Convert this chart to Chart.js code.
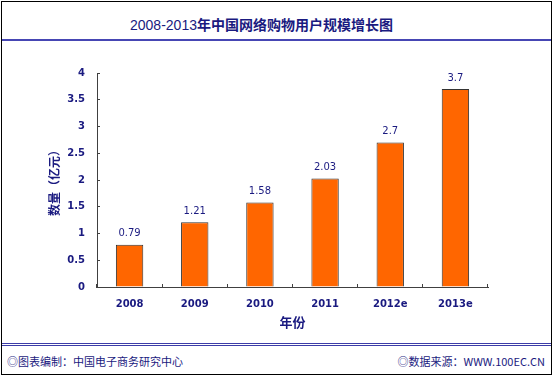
<!DOCTYPE html>
<html><head><meta charset="utf-8">
<script src="https://cdn.jsdelivr.net/npm/chart.js@4.4.1/dist/chart.umd.min.js"></script>
<style>
html,body{margin:0;padding:0;background:#fff;width:554px;height:377px;overflow:hidden;}
#frame{position:absolute;left:1px;top:1px;width:549px;height:372px;border:1px solid #000;}
#title{position:absolute;left:0;top:14px;width:523px;text-align:center;font-size:14px;line-height:20px;color:#1a1a80;font-family:"Noto Sans CJK SC","Liberation Sans",sans-serif;white-space:nowrap;}
#title .n{font-family:"Liberation Sans",Arial,sans-serif;font-weight:normal;}
#title .b{font-weight:bold;}
#tline{position:absolute;left:2px;top:39px;width:549px;height:2px;background:#4646b4;}
#fline{position:absolute;left:2px;top:343px;width:549px;height:1px;border-top:1px solid #3c3ca8;border-bottom:1px solid #3c3ca8;}
.foot{position:absolute;top:353px;font-size:11px;line-height:16px;color:#1a1a80;font-family:"Noto Sans CJK SC",sans-serif;white-space:nowrap;}
#fl{left:7px;}
#fr{right:9px;}
canvas{position:absolute;left:0;top:0;}
</style></head>
<body>
<div id="frame"></div>
<div id="title"><span class="n">2008-2013</span><span class="b">年中国网络购物用户规模增长图</span></div>
<div id="tline"></div>
<div id="fline"></div>
<div class="foot" id="fl">◎图表编制：中国电子商务研究中心</div>
<div class="foot" id="fr">◎数据来源：WWW.100EC.CN</div>
<canvas id="c" width="554" height="377"></canvas>
<script>
const categories = ["2008", "2009", "2010", "2011", "2012e", "2013e"];
const users = [0.79, 1.21, 1.58, 2.03, 2.7, 3.7];
const valueLabels = ["0.79", "1.21", "1.58", "2.03", "2.7", "3.7"];
const yTickValues = [0, 0.5, 1, 1.5, 2, 2.5, 3, 3.5, 4];
const yTickLabels = ["0", "0.5", "1", "1.5", "2", "2.5", "3", "3.5", "4"];

const navy = '#1a1a80';
const axisColor = '#404040';

const labelPlugin = {
  id: 'valueLabels',
  afterDatasetsDraw(chart) {
    const ctx = chart.ctx;
    const meta = chart.getDatasetMeta(0);
    ctx.save();
    ctx.font = '10px "DejaVu Sans", sans-serif';
    ctx.fillStyle = navy;
    ctx.textAlign = 'center';
    ctx.textBaseline = 'middle';
    meta.data.forEach((bar, i) => {
      ctx.fillText(valueLabels[i], bar.x, bar.y - 11);
    });
    ctx.restore();
  }
};

new Chart(document.getElementById('c'), {
  type: 'bar',
  data: {
    labels: categories,
    datasets: [{
      data: users,
      backgroundColor: '#ff6600',
      borderColor: '#333333',
      borderWidth: 1,
      barPercentage: 0.42,
      categoryPercentage: 1
    }]
  },
  options: {
    responsive: false,
    animation: false,
    devicePixelRatio: 1,
    layout: { padding: { left: 0, top: 73, right: 66, bottom: 39 } },
    plugins: { legend: { display: false }, tooltip: { enabled: false } },
    scales: {
      x: {
        afterFit(s) { s.height = 51; },
        grid: { drawOnChartArea: false, tickLength: -3, color: axisColor, offset: true },
        border: { color: axisColor, width: 1 },
        ticks: { color: navy, padding: 14, font: { family: '"DejaVu Sans", sans-serif', size: 10, weight: 'bold' } },
        title: { display: true, text: '年份', color: navy, padding: { top: 8, bottom: 8 },
          font: { family: '"Noto Sans CJK SC", sans-serif', size: 13, weight: 'bold' } }
      },
      y: {
        min: 0, max: 4,
        afterFit(s) { s.width = 97; },
        afterBuildTicks(s) { s.ticks = yTickValues.map(v => ({ value: v })); },
        grid: { drawOnChartArea: false, tickLength: -3, color: axisColor },
        border: { color: axisColor, width: 1 },
        ticks: { color: navy, padding: 15,
          callback: (v) => yTickLabels[yTickValues.indexOf(v)],
          font: { family: '"DejaVu Sans", sans-serif', size: 10, weight: 'bold' } },
        title: { display: true, text: '数量（亿元）', color: navy, padding: { top: 47, bottom: 47 },
          font: { family: '"Noto Sans CJK SC", sans-serif', size: 12, weight: 'bold' } }
      }
    }
  },
  plugins: [labelPlugin]
});
</script>
</body></html>
